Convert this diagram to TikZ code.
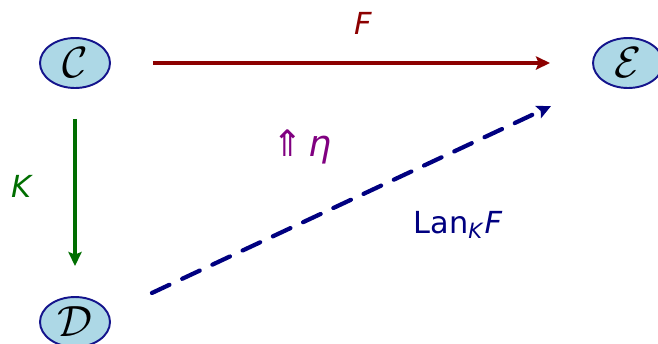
\documentclass[tikz,border=0pt]{standalone}
\usepackage{fontspec}
\setmainfont{DejaVu Sans}
\usetikzlibrary{shapes.geometric,arrows.meta}
\definecolor{catfill}{RGB}{173,216,230}
\definecolor{catline}{RGB}{20,20,140}
\definecolor{funred}{RGB}{140,0,0}
\definecolor{fungreen}{RGB}{0,110,0}
\definecolor{lannavy}{RGB}{0,0,128}
\definecolor{etapurple}{RGB}{128,0,128}
\begin{document}
\begin{tikzpicture}
    [x=0.02cm, y=-0.02cm,
     category/.style={ellipse, draw=catline, line width=1.1pt, fill=catfill,
        minimum width=1.4cm, minimum height=1cm, inner sep=0pt},
     functor/.style={line width=2.4pt, -{Stealth[length=8pt,width=7.5pt,inset=1.5pt]}},
     flabel/.style={font=\LARGE}]
    \useasboundingbox (0, 0) rectangle (658, 343);
    \node[category] (C) at (75, 63) {\Huge$\mathcal{C}$};
    \node[category] (E) at (628, 63) {\Huge$\mathcal{E}$};
    \node[category] (D) at (75, 322) {\Huge$\mathcal{D}$};
    \draw
        [functor, funred, shorten <=0.84cm, shorten >=0.84cm]
        (C) -- (E);
    \node[flabel, funred] (Flabel) at (363, 23) {\textit{F}};
    \draw
        [functor, fungreen, shorten <=0.6cm, shorten >=0.6cm]
        (C) -- (D);
    \node[flabel, fungreen] (Klabel) at (22, 186) {\textit{K}};
    \draw
        [functor, lannavy, dash pattern=on 11pt off 8pt, line cap=round,
         shorten <=1.7cm, shorten >=1.7cm]
        ([yshift=-0.14cm]D.center) -- ([yshift=-0.14cm]E.center);
    \node[flabel, lannavy] (Lan) at (458, 225) {Lan\textsubscript{\textit{K}}\textit{F}};
    \node[font=\huge, etapurple] (eta) at (302, 147) {⇑\,\textit{η}};
\end{tikzpicture}
\end{document}
